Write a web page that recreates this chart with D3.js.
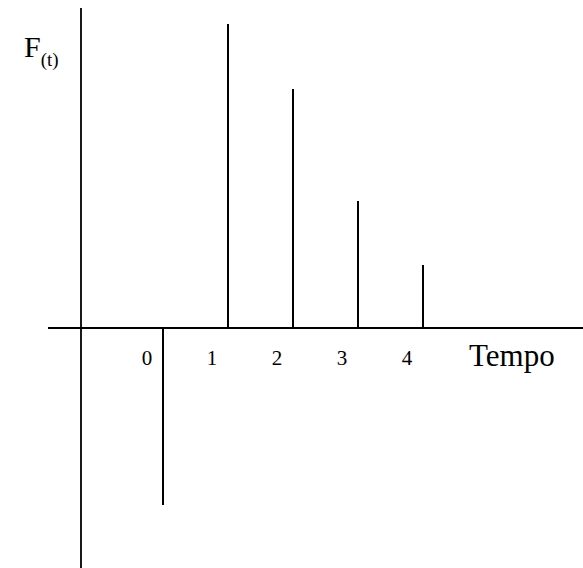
<!DOCTYPE html>
<html>
<head>
<meta charset="utf-8">
<script src="https://cdn.jsdelivr.net/npm/d3@7"></script>
<style>
  body { margin: 0; background: #fff; }
  svg { display: block; }
</style>
</head>
<body>
<div id="chart"></div>
<script>
// cash flow F(t) at each period
const periods = [0, 1, 2, 3, 4]
const flows = [-177, 304, 239, 127, 63]
const tickLabels = ['0', '1', '2', '3', '4']

const width = 583
const height = 568

let svg = d3.select('#chart').append('svg')
  .attr('width', width)
  .attr('height', height)

let x = d3.scaleLinear()
  .domain([0, 4])
  .range([163, 423])

let y = d3.scaleLinear()
  .domain([-240, 320])
  .range([568, 8])

// axes
svg.append('line')
  .attr('x1', 48).attr('x2', width)
  .attr('y1', y(0)).attr('y2', y(0))
  .attr('stroke', '#000').attr('stroke-width', 1.8)

svg.append('line')
  .attr('x1', 81).attr('x2', 81)
  .attr('y1', y(320)).attr('y2', y(-240))
  .attr('stroke', '#000').attr('stroke-width', 1.8)

// flows
svg.append('g').selectAll('line')
  .data(periods)
  .enter()
  .append('line')
  .attr('x1', d => x(d)).attr('x2', d => x(d))
  .attr('y1', y(0))
  .attr('y2', (d, i) => y(flows[i]))
  .attr('stroke', '#000')
  .attr('stroke-width', 2)

// tick labels, set just left of each flow
svg.append('g').selectAll('text')
  .data(periods)
  .enter()
  .append('text')
  .attr('x', d => x(d) - 16)
  .attr('y', y(0) + 37)
  .attr('text-anchor', 'middle')
  .style('font', "21px 'Liberation Serif'")
  .text((d, i) => tickLabels[i])

svg.append('text')
  .attr('x', 469)
  .attr('y', y(0) + 38)
  .style('font', "31px 'Liberation Serif'")
  .text('Tempo')

let fLabel = svg.append('text')
  .attr('x', 24)
  .attr('y', 57)
  .style('font', "30px 'Liberation Serif'")
fLabel.append('tspan').text('F')
fLabel.append('tspan')
  .style('font-size', '19px')
  .attr('dy', 9)
  .text('(t)')
</script>
</body>
</html>
